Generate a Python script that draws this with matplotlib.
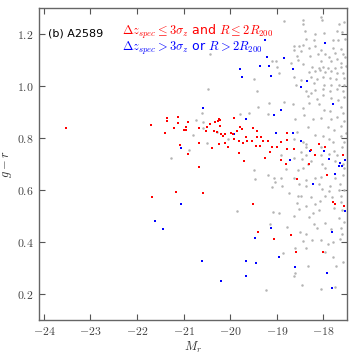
"""Colour-magnitude diagram of A2589 (g-r vs M_r)."""

import matplotlib

matplotlib.use("Agg")
import matplotlib.pyplot as plt  # noqa: E402
from matplotlib.ticker import FuncFormatter, MultipleLocator  # noqa: E402

plt.rcParams["mathtext.fontset"] = "cm"

# members: dz <= 3 sigma and R <= 2 R200
red_mr = [-23.53, -21.70, -21.36, -21.36, -21.40, -21.20, -21.12, -21.12, -20.91, -20.94,
          -21.00, -20.96, -20.68, -20.49, -20.52, -20.44, -20.25, -20.21, -20.27, -20.32,
          -20.22, -20.34, -20.28, -20.20, -20.15, -20.11, -19.98, -19.95, -19.91, -19.79,
          -19.75, -19.85, -19.92, -19.81, -19.72, -20.67, -20.39, -20.24, -20.12, -20.04,
          -21.08, -20.90, -19.82, -19.71, -19.52, -19.43, -19.67, -19.43, -19.34, -19.63,
          -19.53, -19.45, -19.36, -19.29, -19.19, -19.10, -19.00, -19.14, -19.25, -18.79,
          -18.79, -18.78, -18.90, -18.92, -18.80, -18.30, -18.27, -18.19, -18.10, -17.97,
          -17.58, -18.56, -17.93, -19.52, -17.80, -17.76, -17.55, -19.40, -19.07, -18.69,
          -20.68, -21.17, -21.68, -20.58, -18.59, -18.00, -18.62]
red_gr = [0.840, 0.849, 0.876, 0.864, 0.818, 0.838, 0.881, 0.859, 0.860, 0.841,
          0.830, 0.830, 0.837, 0.844, 0.827, 0.856, 0.873, 0.869, 0.865, 0.860,
          0.845, 0.827, 0.822, 0.815, 0.809, 0.815, 0.820, 0.814, 0.878, 0.841,
          0.834, 0.826, 0.797, 0.787, 0.782, 0.780, 0.760, 0.779, 0.782, 0.765,
          0.775, 0.738, 0.744, 0.710, 0.838, 0.827, 0.803, 0.803, 0.805, 0.787,
          0.788, 0.769, 0.769, 0.788, 0.788, 0.766, 0.766, 0.745, 0.725, 0.818,
          0.791, 0.759, 0.784, 0.715, 0.699, 0.699, 0.753, 0.733, 0.776, 0.764,
          0.736, 0.641, 0.656, 0.547, 0.555, 0.547, 0.540, 0.439, 0.413, 0.428,
          0.688, 0.591, 0.573, 0.587, 0.362, 0.362, 0.756]

# non-members: dz > 3 sigma or R > 2 R200
blue_mr = [-21.61, -21.45, -21.05, -20.60, -20.20, -19.66, -19.66, -19.45, -19.47, -19.13,
           -18.96, -18.60, -17.93, -17.82, -17.82, -18.22, -17.53, -17.67, -17.59, -17.76,
           -20.59, -21.06, -19.92, -18.49, -17.79, -18.92, -19.07, -19.66, -19.02, -18.66,
           -18.47, -18.92, -18.72, -18.29, -17.99, -17.87, -17.65, -17.53, -19.25, -17.97,
           -19.20, -18.85, -19.36, -19.17, -18.66, -19.13, -18.36, -19.79, -19.75]
blue_gr = [0.482, 0.448, 0.546, 0.325, 0.249, 0.327, 0.270, 0.318, 0.416, 0.455,
           0.343, 0.303, 0.280, 0.437, 0.224, 0.622, 0.520, 0.694, 0.694, 0.663,
           0.914, 0.763, 0.815, 0.998, 0.930, 0.909, 0.887, 0.875, 0.818, 0.819,
           0.790, 0.784, 0.715, 0.751, 0.751, 0.720, 0.705, 0.717, 1.177, 1.166,
           1.111, 1.108, 1.078, 1.078, 1.065, 1.039, 1.019, 1.065, 1.037]

# all other galaxies in the field
gray_mr = [-18.84, -18.44, -18.06, -18.03, -17.66, -17.56, -18.40, -17.99, -17.71, -17.61,
           -18.37, -18.20, -17.80, -17.69, -17.53, -18.63, -18.53, -18.44, -18.30, -18.18,
           -18.06, -17.79, -17.63, -18.63, -18.47, -18.11, -17.97, -17.76, -17.58, -18.56,
           -18.29, -17.87, -17.71, -17.53, -18.54, -18.04, -17.83, -17.63, -19.10, -19.01,
           -19.00, -18.70, -18.44, -18.24, -18.10, -18.01, -17.91, -17.76, -17.63, -17.51,
           -18.30, -18.18, -18.07, -17.96, -17.83, -17.70, -17.57, -19.48, -18.96, -18.63,
           -18.48, -18.27, -18.14, -18.01, -17.86, -17.73, -17.56, -18.59, -18.20, -17.99,
           -17.83, -17.67, -17.56, -20.43, -20.48, -20.61, -20.74, -20.59, -20.59, -20.79,
           -20.29, -20.05, -19.79, -20.50, -20.89, -21.27, -19.43, -18.37, -18.27, -18.17,
           -18.01, -17.86, -17.70, -17.57, -18.34, -18.14, -18.00, -17.84, -17.69, -17.55,
           -18.84, -18.65, -18.44, -18.31, -18.09, -17.98, -17.86, -17.63, -17.57, -19.41,
           -19.60, -19.19, -18.60, -18.41, -18.23, -18.04, -17.84, -17.70, -17.56, -18.34,
           -17.91, -17.77, -17.63, -17.51, -18.56, -18.18, -18.00, -17.87, -17.63, -18.63,
           -18.44, -17.80, -17.56, -18.37, -18.38, -18.06, -17.77, -17.61, -18.47, -18.37,
           -18.04, -17.87, -17.70, -18.91, -18.63, -18.46, -18.27, -17.76, -17.57, -18.34,
           -18.03, -19.48, -19.18, -18.81, -18.54, -18.44, -17.96, -17.56, -19.06, -18.90,
           -18.64, -18.37, -18.17, -18.04, -17.76, -17.57, -19.47, -19.03, -18.53, -18.37,
           -18.09, -17.86, -17.64, -19.11, -18.88, -18.03, -17.87, -17.67, -17.56, -18.73,
           -17.96, -17.82, -17.63, -18.54, -18.47, -18.26, -18.07, -17.63, -18.56, -18.37,
           -18.17, -17.77, -18.09, -18.53, -19.08, -18.95, -18.64, -18.22, -17.61, -18.30,
           -17.66, -17.96, -17.56, -18.20, -19.15, -18.78, -18.14, -17.63, -17.84, -18.51,
           -18.37, -17.61, -18.24, -17.64, -17.80, -18.44, -18.04, -17.90, -18.60, -18.38,
           -18.87, -17.97, -17.79, -17.57, -18.34, -17.72, -18.60, -18.63, -18.46, -18.06,
           -17.76, -19.23, -19.86, -19.17, -18.43, -18.19]
gray_gr = [1.250, 1.240, 1.268, 1.253, 1.240, 1.247, 1.212, 1.204, 1.214, 1.209,
           1.183, 1.178, 1.178, 1.176, 1.181, 1.153, 1.155, 1.158, 1.145, 1.153,
           1.139, 1.145, 1.142, 1.139, 1.134, 1.124, 1.124, 1.127, 1.122, 1.116,
           1.116, 1.111, 1.106, 1.111, 1.101, 1.096, 1.096, 1.088, 1.098, 1.096,
           1.073, 1.088, 1.085, 1.075, 1.070, 1.075, 1.070, 1.070, 1.073, 1.078,
           1.054, 1.057, 1.062, 1.054, 1.057, 1.052, 1.052, 1.029, 1.050, 1.034,
           1.024, 1.034, 1.029, 1.034, 1.031, 1.026, 1.031, 1.003, 1.011, 1.003,
           1.006, 1.003, 1.006, 1.124, 0.988, 0.896, 0.871, 0.861, 0.840, 0.811,
           0.822, 0.797, 0.891, 0.782, 0.753, 0.725, 0.980, 0.983, 0.975, 0.985,
           0.990, 0.983, 0.990, 0.980, 0.962, 0.952, 0.964, 0.954, 0.946, 0.959,
           0.939, 0.931, 0.915, 0.934, 0.931, 0.910, 0.903, 0.918, 0.895, 0.921,
           0.898, 0.892, 0.875, 0.890, 0.872, 0.877, 0.872, 0.882, 0.867, 0.841,
           0.841, 0.831, 0.846, 0.820, 0.823, 0.810, 0.807, 0.797, 0.807, 0.795,
           0.784, 0.784, 0.784, 0.776, 0.764, 0.764, 0.751, 0.764, 0.746, 0.736,
           0.733, 0.738, 0.733, 0.733, 0.725, 0.720, 0.710, 0.712, 0.699, 0.699,
           0.699, 0.676, 0.656, 0.681, 0.676, 0.684, 0.686, 0.684, 0.648, 0.645,
           0.645, 0.637, 0.645, 0.651, 0.648, 0.656, 0.643, 0.630, 0.622, 0.617,
           0.622, 0.614, 0.622, 0.612, 0.614, 0.602, 0.597, 0.599, 0.599, 0.589,
           0.576, 0.573, 0.578, 0.578, 0.576, 0.573, 0.558, 0.553, 0.550, 0.540,
           0.545, 0.529, 0.524, 0.527, 0.514, 0.512, 0.501, 0.512, 0.522, 0.496,
           0.493, 0.473, 0.478, 0.470, 0.470, 0.458, 0.455, 0.455, 0.450, 0.437,
           0.432, 0.432, 0.409, 0.411, 0.401, 0.404, 0.406, 0.393, 0.375, 0.375,
           0.359, 0.362, 0.344, 0.321, 0.308, 0.308, 0.280, 0.269, 0.233, 0.218,
           0.228, 0.215, 0.518, 0.936, 1.255, 1.201]


def x_fmt(v, pos):
    return f"${v:.0f}$"


def y_fmt(v, pos):
    return f"${v:.1f}$"


fig = plt.figure(figsize=(3.57, 3.57), dpi=100)
ax = fig.add_axes([0.110, 0.104, 0.861, 0.873])

ax.plot(gray_mr, gray_gr, "o", ms=1.8, color="#b4b4b4", mew=0)
ax.plot(blue_mr, blue_gr, "s", ms=2.0, color="#0000ff", mew=0)
ax.plot(red_mr, red_gr, "s", ms=2.0, color="#ff0000", mew=0)

ax.set_xlim(-24.1, -17.5)
ax.set_ylim(0.1, 1.3)
ax.xaxis.set_major_locator(MultipleLocator(1))
ax.yaxis.set_major_locator(MultipleLocator(0.2))
ax.xaxis.set_major_formatter(FuncFormatter(x_fmt))
ax.yaxis.set_major_formatter(FuncFormatter(y_fmt))
ax.tick_params(direction="in", top=True, right=True, length=4, width=0.8,
               color="#555555", labelsize=8.5, labelcolor="#444444", pad=4)
for sp in ax.spines.values():
    sp.set_color("#666666")
    sp.set_linewidth(1.0)

ax.set_xlabel("$M_r$", fontsize=9, color="#333333", labelpad=1)
ax.set_ylabel("$g-r$", fontsize=9, color="#333333", labelpad=2)

ax.text(0.03, 0.92, "(b) A2589", transform=ax.transAxes, fontsize=8, color="black",
        va="center", ha="left")
ax.text(0.27, 0.925, r"$\Delta z_{spec} \leq 3\sigma_z$ and $R \leq 2R_{200}$",
        transform=ax.transAxes, fontsize=9, color="#ff0000", va="center", ha="left")
ax.text(0.27, 0.870, r"$\Delta z_{spec} > 3\sigma_z$ or $R > 2R_{200}$",
        transform=ax.transAxes, fontsize=9, color="#0000ff", va="center", ha="left")

fig.savefig("out.png", dpi=100)
